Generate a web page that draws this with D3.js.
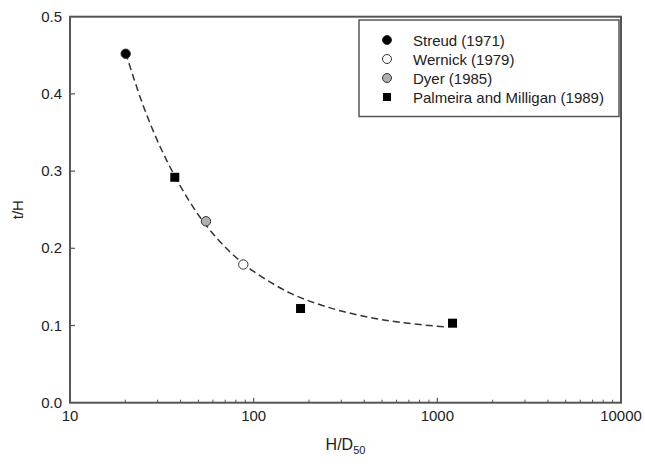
<!DOCTYPE html>
<html lang="en">
<head>
<meta charset="UTF-8">
<title>t/H vs H/D50</title>
<script src="https://d3js.org/d3.v7.min.js"></script>
<style>
  body { margin: 0; background: #fff; }
  text { font-family: "Liberation Sans", Arial, sans-serif; fill: #222; }
</style>
</head>
<body>
<svg width="645" height="466"></svg>
<script>
// data
let streudX = [20.1], streudY = [0.452]
let wernickX = [87.8], wernickY = [0.179]
let dyerX = [55.0], dyerY = [0.235]
let palmeiraX = [37.2, 180, 1210], palmeiraY = [0.292, 0.122, 0.103]
// dashed trend curve
let curveX = [20.1, 25.1, 31.6, 39.8, 50.1, 63.1, 79.4, 100, 158, 251, 398, 631, 1120]
let curveY = [0.453, 0.384, 0.327, 0.281, 0.243, 0.213, 0.189, 0.170, 0.142, 0.124, 0.112, 0.104, 0.098]
let xTicks = [10, 100, 1000, 10000]
let yTicks = [0, 0.1, 0.2, 0.3, 0.4, 0.5]
let legendNames = ["Streud (1971)", "Wernick (1979)", "Dyer (1985)", "Palmeira and Milligan (1989)"]

let svg = d3.select("svg")
let pLeft = 70, pRight = 621, pTop = 16.7, pBottom = 402.7
let x = d3.scaleLog().domain([10, 10000]).range([pLeft, pRight])
let y = d3.scaleLinear().domain([0, 0.5]).range([pBottom, pTop])
let axisColor = "#555"

// frame
svg.append("rect")
    .attr("x", pLeft).attr("y", pTop)
    .attr("width", pRight - pLeft).attr("height", pBottom - pTop)
    .attr("fill", "none").attr("stroke", axisColor).attr("stroke-width", 2)

// x ticks (major + minor, inward)
let minor = []
for (let d = 10; d < 10000; d *= 10) {
    for (let k = 2; k <= 9; k++) minor.push(d * k)
}
svg.append("g").selectAll("line").data(minor).enter().append("line")
    .attr("x1", d => x(d)).attr("x2", d => x(d))
    .attr("y1", pBottom).attr("y2", pBottom - 3)
    .attr("stroke", axisColor).attr("stroke-width", 1)
svg.append("g").selectAll("line").data(xTicks.slice(1, -1)).enter().append("line")
    .attr("x1", d => x(d)).attr("x2", d => x(d))
    .attr("y1", pBottom).attr("y2", pBottom - 5)
    .attr("stroke", axisColor).attr("stroke-width", 1.2)
svg.append("g").selectAll("text").data(xTicks).enter().append("text")
    .attr("x", d => x(d)).attr("y", pBottom + 18.5)
    .attr("text-anchor", "middle").attr("font-size", 15)
    .text(d => d)

// y ticks
svg.append("g").selectAll("line").data(yTicks.slice(1, -1)).enter().append("line")
    .attr("x1", pLeft).attr("x2", pLeft + 5)
    .attr("y1", d => y(d)).attr("y2", d => y(d))
    .attr("stroke", axisColor).attr("stroke-width", 1.2)
svg.append("g").selectAll("text").data(yTicks).enter().append("text")
    .attr("x", pLeft - 8).attr("y", d => y(d) + 5)
    .attr("text-anchor", "end").attr("font-size", 15)
    .text(d => d.toFixed(1))

// axis titles
let xt = svg.append("text")
    .attr("x", (pLeft + pRight) / 2).attr("y", 450)
    .attr("text-anchor", "middle").attr("font-size", 16)
xt.append("tspan").text("H/D")
xt.append("tspan").attr("font-size", 11).attr("dy", 4).text("50")
svg.append("text")
    .attr("transform", `translate(23,${(pTop + pBottom) / 2}) rotate(-90)`)
    .attr("text-anchor", "middle").attr("font-size", 15)
    .text("t/H")

// dashed curve
let line = d3.line()
    .x(d => x(d[0])).y(d => y(d[1]))
    .curve(d3.curveCatmullRom)
svg.append("path")
    .datum(d3.zip(curveX, curveY))
    .attr("d", line)
    .attr("fill", "none").attr("stroke", "#333")
    .attr("stroke-width", 1.5).attr("stroke-dasharray", "7,4")

// markers
function circles(xs, ys, fill) {
    svg.append("g").selectAll("circle").data(d3.zip(xs, ys)).enter().append("circle")
        .attr("cx", d => x(d[0])).attr("cy", d => y(d[1])).attr("r", 4.7)
        .attr("fill", fill).attr("stroke", "#333").attr("stroke-width", 1)
}
circles(streudX, streudY, "#000")
circles(wernickX, wernickY, "#fff")
circles(dyerX, dyerY, "#b0b0b0")
svg.append("g").selectAll("rect").data(d3.zip(palmeiraX, palmeiraY)).enter().append("rect")
    .attr("x", d => x(d[0]) - 4.5).attr("y", d => y(d[1]) - 4.5)
    .attr("width", 9).attr("height", 9).attr("fill", "#000")

// legend
let lg = svg.append("g")
lg.append("rect")
    .attr("x", 359).attr("y", 20).attr("width", 260).attr("height", 96.5)
    .attr("fill", "#fff").attr("stroke", axisColor).attr("stroke-width", 1.5)
let fills = ["#000", "#fff", "#b0b0b0"]
legendNames.forEach(function (name, i) {
    let cy = 40 + i * 19
    if (i < 3) {
        lg.append("circle").attr("cx", 387).attr("cy", cy).attr("r", 4.5)
            .attr("fill", fills[i]).attr("stroke", "#333").attr("stroke-width", 1)
    } else {
        lg.append("rect").attr("x", 383).attr("y", cy - 4).attr("width", 8).attr("height", 8)
            .attr("fill", "#000")
    }
    lg.append("text").attr("x", 413).attr("y", cy + 5.5)
        .attr("font-size", 15).text(name)
})
</script>
</body>
</html>
